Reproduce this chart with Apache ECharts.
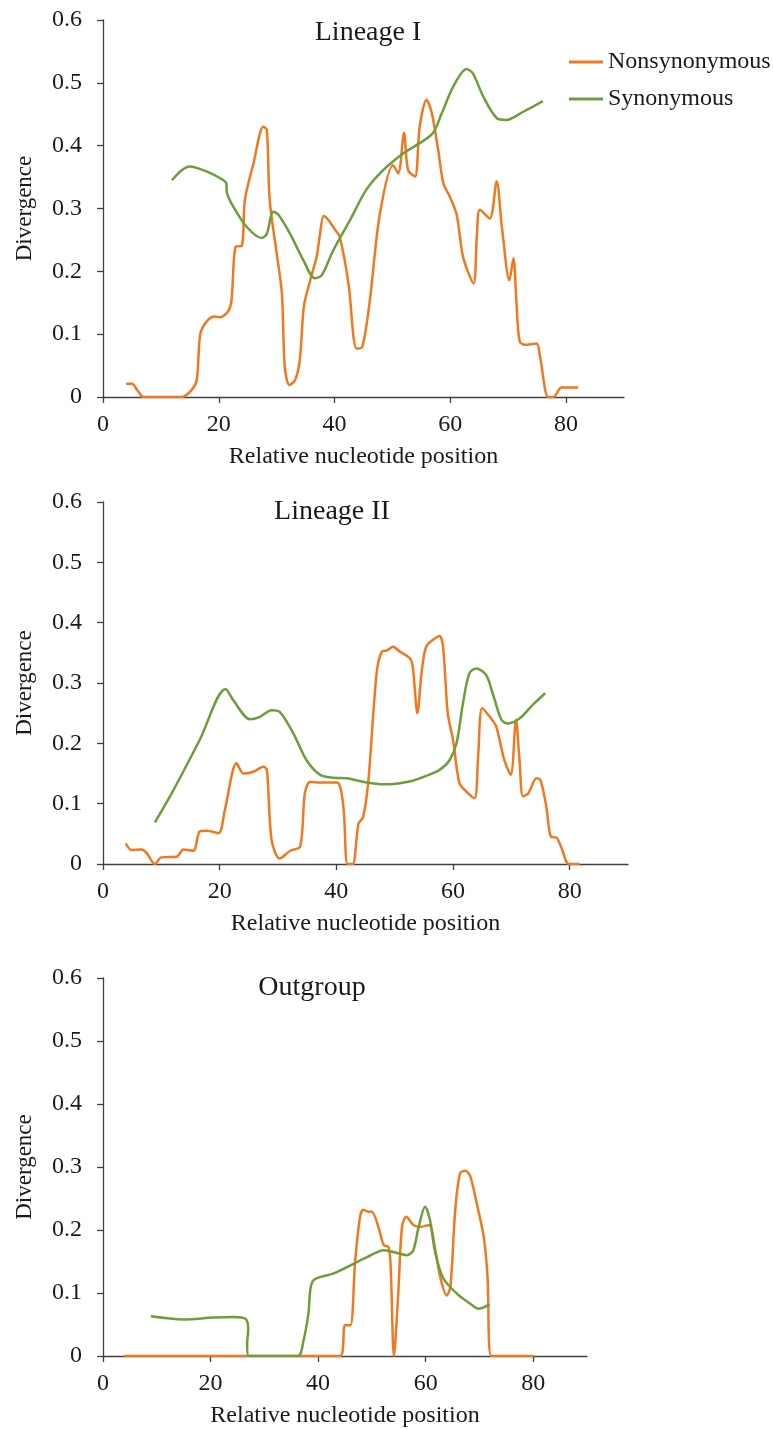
<!DOCTYPE html>
<html>
<head>
<meta charset="utf-8">
<script src="https://cdn.jsdelivr.net/npm/echarts@6/dist/echarts.min.js"></script>
<style>
  html, body { margin: 0; padding: 0; background: #fff; }
  #chart { width: 773px; height: 1429px; }
</style>
</head>
<body>
<div id="chart"></div>
<script>
// x = relative nucleotide position, y = divergence
const panelTitles = ["Lineage I", "Lineage II", "Outgroup"];
const xTicks = [0, 20, 40, 60, 80];

const lin1Nonsyn = [[4,0.021],[5,0.021],[6,0.01],[7,0],[10,0],[13.6,0],[15.3,0.011],[16.2,0.027],[16.8,0.1],[17.9,0.12],[19.3,0.128],[20.2,0.127],[21.6,0.136],[22.2,0.154],[22.9,0.239],[24,0.241],[24.5,0.313],[26,0.372],[27.7,0.43],[28.3,0.425],[28.8,0.313],[30,0.229],[30.9,0.165],[31.4,0.048],[32.2,0.019],[33.2,0.027],[34,0.059],[34.7,0.144],[35.8,0.186],[36.9,0.223],[37.5,0.26],[38.1,0.288],[38.9,0.282],[40.1,0.266],[40.9,0.255],[42.4,0.181],[43.8,0.077],[44.8,0.08],[46.1,0.154],[47.8,0.29],[50.1,0.369],[51,0.356],[52,0.42],[52.7,0.361],[53.9,0.351],[54.7,0.43],[55.9,0.473],[56.8,0.452],[57.9,0.393],[58.8,0.34],[59.9,0.319],[61.1,0.29],[62.2,0.223],[64,0.181],[64.6,0.26],[65.1,0.298],[66.8,0.284],[68,0.343],[68.9,0.271],[70.2,0.186],[70.9,0.221],[71.4,0.154],[72,0.088],[73.2,0.083],[74.9,0.085],[75.5,0.064],[76.9,0],[77.8,0],[79.2,0.015],[82.1,0.015]];
const lin1Syn = [[11.9,0.345],[13.6,0.361],[15,0.367],[17.9,0.359],[20.8,0.345],[21.3,0.34],[21.4,0.325],[22.5,0.303],[24.8,0.271],[27.4,0.253],[28.3,0.26],[29.4,0.295],[30.3,0.29],[32.3,0.26],[34.6,0.218],[36.6,0.189],[37.8,0.194],[39.8,0.234],[42.7,0.282],[45.5,0.33],[48.4,0.361],[51.9,0.388],[54.7,0.404],[57,0.42],[58.5,0.451],[60.5,0.494],[62.8,0.522],[63.9,0.515],[65.7,0.478],[68,0.444],[69.7,0.441],[72.6,0.454],[76,0.471]];

const lin2Nonsyn = [[3.9,0.034],[4.9,0.023],[6.6,0.024],[7.5,0.018],[8.9,0],[10,0.011],[12.6,0.012],[13.8,0.024],[15.5,0.022],[16.6,0.054],[17.8,0.055],[19.8,0.051],[20.9,0.09],[22.9,0.167],[24.1,0.15],[25.8,0.153],[27.5,0.161],[28.1,0.156],[28.9,0.04],[30.3,0.009],[32.1,0.022],[33.8,0.029],[34.6,0.117],[35.5,0.136],[37.2,0.135],[40.1,0.135],[41.2,0.095],[41.9,0],[42.8,0],[43.8,0.067],[44.6,0.078],[45.5,0.139],[46.9,0.316],[47.8,0.352],[48.7,0.354],[49.7,0.36],[50.9,0.352],[52.6,0.341],[53.1,0.327],[53.9,0.25],[54.6,0.316],[55.4,0.36],[56.9,0.374],[57.7,0.378],[58.3,0.36],[59.1,0.25],[60,0.206],[61.1,0.134],[62.3,0.12],[63.7,0.109],[64.3,0.178],[65,0.258],[66.3,0.244],[67.4,0.228],[68.8,0.172],[69.9,0.148],[70.8,0.239],[71.4,0.172],[72,0.112],[72.9,0.117],[74.3,0.142],[75,0.139],[76,0.095],[76.8,0.045],[77.7,0.044],[78.5,0.029],[79.9,0],[81.7,0]];
const lin2Syn = [[8.9,0.069],[12.1,0.123],[16.6,0.206],[21,0.29],[22.3,0.272],[25.2,0.24],[26.9,0.244],[28.9,0.255],[30.3,0.252],[32.6,0.217],[34.9,0.172],[37.2,0.148],[39.5,0.143],[41.8,0.142],[45.2,0.135],[48.1,0.132],[50.9,0.134],[53.1,0.138],[55.4,0.146],[57.7,0.156],[59.4,0.172],[60.6,0.2],[61.7,0.266],[62.8,0.316],[64,0.324],[65.7,0.313],[66.8,0.283],[68.3,0.239],[69.4,0.233],[71.4,0.241],[73.7,0.264],[75.8,0.283]];

const outNonsyn = [[4,0],[44.1,0],[45,0.049],[46,0.049],[46.9,0.152],[47.8,0.221],[48.4,0.232],[49.4,0.229],[50,0.229],[51.2,0.205],[52.2,0.176],[53.1,0.173],[53.5,0.14],[54.1,0],[54.9,0.099],[55.6,0.205],[56.4,0.221],[57.7,0.208],[59,0.205],[60.6,0.208],[61.8,0.168],[62.7,0.126],[63.9,0.096],[64.6,0.11],[65.5,0.232],[66.4,0.29],[67.4,0.294],[68.3,0.285],[69.5,0.242],[70.8,0.189],[71.5,0.126],[72.2,0],[80.1,0]];
const outSyn = [[8.9,0.063],[14.9,0.058],[20.5,0.061],[24.2,0.062],[26.5,0.059],[27,0.042],[26.8,0.02],[27.1,0],[36.2,0],[37.3,0.025],[38.2,0.067],[39,0.119],[42.9,0.131],[49.1,0.157],[52.2,0.168],[54,0.165],[56.5,0.16],[57.7,0.168],[58.7,0.205],[59.9,0.237],[60.8,0.216],[61.8,0.163],[63.3,0.123],[65.8,0.099],[68.3,0.083],[69.8,0.075],[71.9,0.082]];

const panelData = [[lin1Nonsyn, lin1Syn], [lin2Nonsyn, lin2Syn], [outNonsyn, outSyn]];

const fontFamily = "'Liberation Serif', 'Times New Roman', serif";
const textColor = "#1a1a1a";
const axisColor = "#404040";
const orange = "#F0781E";
const green = "#6E9E3C";

const grids = [
  { left: 103, top: 20, width: 521, height: 377 },
  { left: 103, top: 502, width: 525, height: 362 },
  { left: 103, top: 978, width: 484, height: 378 }
];
const titlePos = [
  { left: 363, top: 14 },
  { left: 327, top: 493 },
  { left: 307, top: 969 }
];

const chart = echarts.init(document.getElementById("chart"));

const option = {
  backgroundColor: "#fff",
  animation: false,
  textStyle: { fontFamily: fontFamily, color: textColor },
  title: panelTitles.map((t, i) => ({
    text: t,
    left: titlePos[i].left,
    top: titlePos[i].top,
    textAlign: "center",
    textStyle: { fontFamily: fontFamily, fontSize: 28, fontWeight: "normal", color: textColor }
  })),
  legend: {
    orient: "vertical",
    left: 569,
    top: 50,
    padding: 0,
    itemGap: 13,
    itemWidth: 34,
    itemHeight: 3,
    icon: "rect",
    data: ["Nonsynonymous", "Synonymous"],
    textStyle: { fontFamily: fontFamily, fontSize: 24, color: textColor }
  },
  grid: grids.map(g => ({ ...g, containLabel: false })),
  xAxis: grids.map((g, i) => ({
    type: "value",
    gridIndex: i,
    min: 0,
    max: 90,
    interval: 20,
    name: "Relative nucleotide position",
    nameLocation: "middle",
    nameGap: 48,
    nameTextStyle: { fontFamily: fontFamily, fontSize: 24, color: textColor },
    splitLine: { show: false },
    axisLine: { onZero: false, lineStyle: { color: axisColor, width: 1.3 } },
    axisTick: { length: 6, lineStyle: { color: axisColor, width: 1.3 }, customValues: xTicks },
    axisLabel: { margin: 16, fontSize: 24, color: textColor, fontFamily: fontFamily, customValues: xTicks }
  })),
  yAxis: grids.map((g, i) => ({
    type: "value",
    gridIndex: i,
    min: 0,
    max: 0.6,
    interval: 0.1,
    name: "Divergence",
    nameLocation: "middle",
    nameGap: 67,
    nameTextStyle: { fontFamily: fontFamily, fontSize: 23, color: textColor },
    splitLine: { show: false },
    axisLine: { show: true, lineStyle: { color: axisColor, width: 1.3 } },
    axisTick: { show: true, length: 6, lineStyle: { color: axisColor, width: 1.3 } },
    axisLabel: { margin: 21, fontSize: 24, color: textColor, fontFamily: fontFamily }
  })),
  series: []
};

panelData.forEach((pair, i) => {
  option.series.push({
    name: "Nonsynonymous",
    type: "line",
    xAxisIndex: i,
    yAxisIndex: i,
    data: pair[0],
    smooth: 0.3,
    symbol: "none",
    lineStyle: { color: orange, width: 2.5 },
    itemStyle: { color: orange }
  });
  option.series.push({
    name: "Synonymous",
    type: "line",
    xAxisIndex: i,
    yAxisIndex: i,
    data: pair[1],
    smooth: 0.3,
    symbol: "none",
    lineStyle: { color: green, width: 2.5 },
    itemStyle: { color: green }
  });
});

chart.setOption(option);
window.addEventListener("resize", () => chart.resize());
</script>
</body>
</html>
